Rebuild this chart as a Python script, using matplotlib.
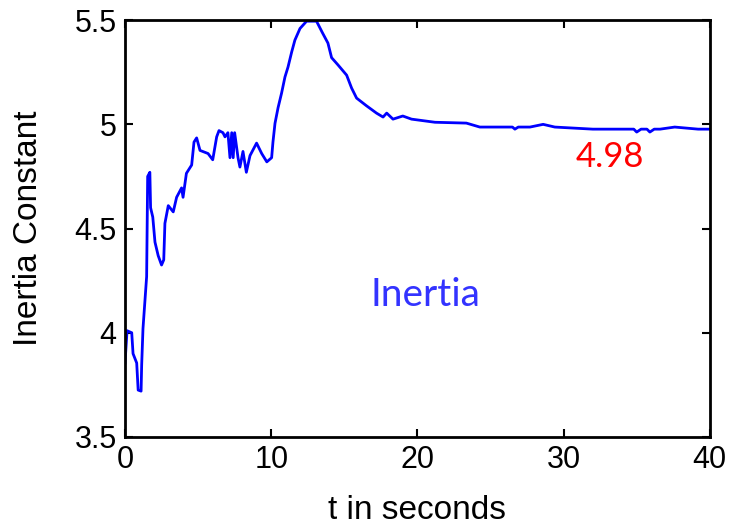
import numpy as np
import matplotlib.pyplot as plt

# time (s) and estimated inertia constant
t = [0.0, 0.14, 0.46, 0.55, 0.8, 0.9, 1.1, 1.14, 1.23, 1.48, 1.55, 1.7, 1.75, 1.9, 2.05, 2.27, 2.5, 2.65,
     2.73, 2.96, 3.3, 3.53, 3.87, 3.97, 4.2, 4.56, 4.72, 4.9, 5.13, 5.68, 6.0, 6.27, 6.43, 6.7, 6.84, 7.04,
     7.18, 7.3, 7.4, 7.5, 7.73, 7.86, 8.07, 8.3, 8.55, 9.0, 9.35, 9.7, 10.03, 10.12, 10.26, 10.47, 10.71,
     10.94, 11.15, 11.4, 11.62, 11.97, 12.42, 13.1, 13.5, 13.88, 14.13, 14.57, 15.16, 15.5, 15.84, 16.5,
     17.2, 17.65, 17.9, 18.33, 19.0, 19.6, 21.2, 23.35, 24.27, 26.5, 26.67, 26.9, 27.7, 28.6, 29.4, 32.0,
     34.8, 35.0, 35.3, 35.7, 35.9, 36.2, 36.6, 37.6, 39.2, 40.0]
H = [3.855, 4.01, 4.0, 3.90, 3.855, 3.725, 3.72, 3.845, 4.02, 4.27, 4.75, 4.77, 4.60, 4.555, 4.435, 4.37,
     4.325, 4.35, 4.525, 4.61, 4.58, 4.65, 4.695, 4.65, 4.765, 4.805, 4.915, 4.935, 4.875, 4.86, 4.83, 4.94,
     4.97, 4.96, 4.94, 4.96, 4.84, 4.96, 4.84, 4.96, 4.84, 4.795, 4.87, 4.77, 4.85, 4.91, 4.86, 4.82, 4.84,
     4.915, 5.005, 5.08, 5.15, 5.227, 5.275, 5.347, 5.404, 5.46, 5.495, 5.495, 5.44, 5.39, 5.32, 5.285,
     5.236, 5.174, 5.126, 5.09, 5.054, 5.035, 5.054, 5.025, 5.04, 5.025, 5.01, 5.006, 4.987, 4.987, 4.977,
     4.987, 4.987, 5.0, 4.987, 4.977, 4.977, 4.963, 4.977, 4.977, 4.963, 4.977, 4.977, 4.987, 4.977, 4.977]

fig = plt.figure(figsize=(7.31, 5.30), dpi=100)
ax = fig.add_axes([0.171, 0.1755, 0.80, 0.7865])
ax.plot(t, H, color='#0000ff', lw=2.0)

ax.set_xlim(0, 40)
ax.set_ylim(3.5, 5.5)
ax.set_xticks([0, 10, 20, 30, 40])
ax.set_yticks([3.5, 4, 4.5, 5, 5.5])
ax.set_yticklabels(['3.5', '4', '4.5', '5', '5.5'])
ax.tick_params(direction='in', top=True, right=True, length=6, width=1.5,
               labelsize=22, pad=6)
for s in ax.spines.values():
    s.set_linewidth(2)
for lab in ax.get_xticklabels() + ax.get_yticklabels():
    lab.set_family('Liberation Sans')

ax.set_xlabel('t in seconds', fontsize=24, family='Liberation Sans', labelpad=14)
ax.set_ylabel('Inertia Constant', fontsize=24, family='Liberation Sans', labelpad=22)

ax.text(33.16, 4.843, '4.98', color='#ff0000', fontsize=25, family='Lato', ha='center', va='center')
ax.text(20.58, 4.18, 'Inertia', color='#3333ff', fontsize=28, family='Lato', ha='center', va='center')

fig.savefig('out.png', dpi=100)
